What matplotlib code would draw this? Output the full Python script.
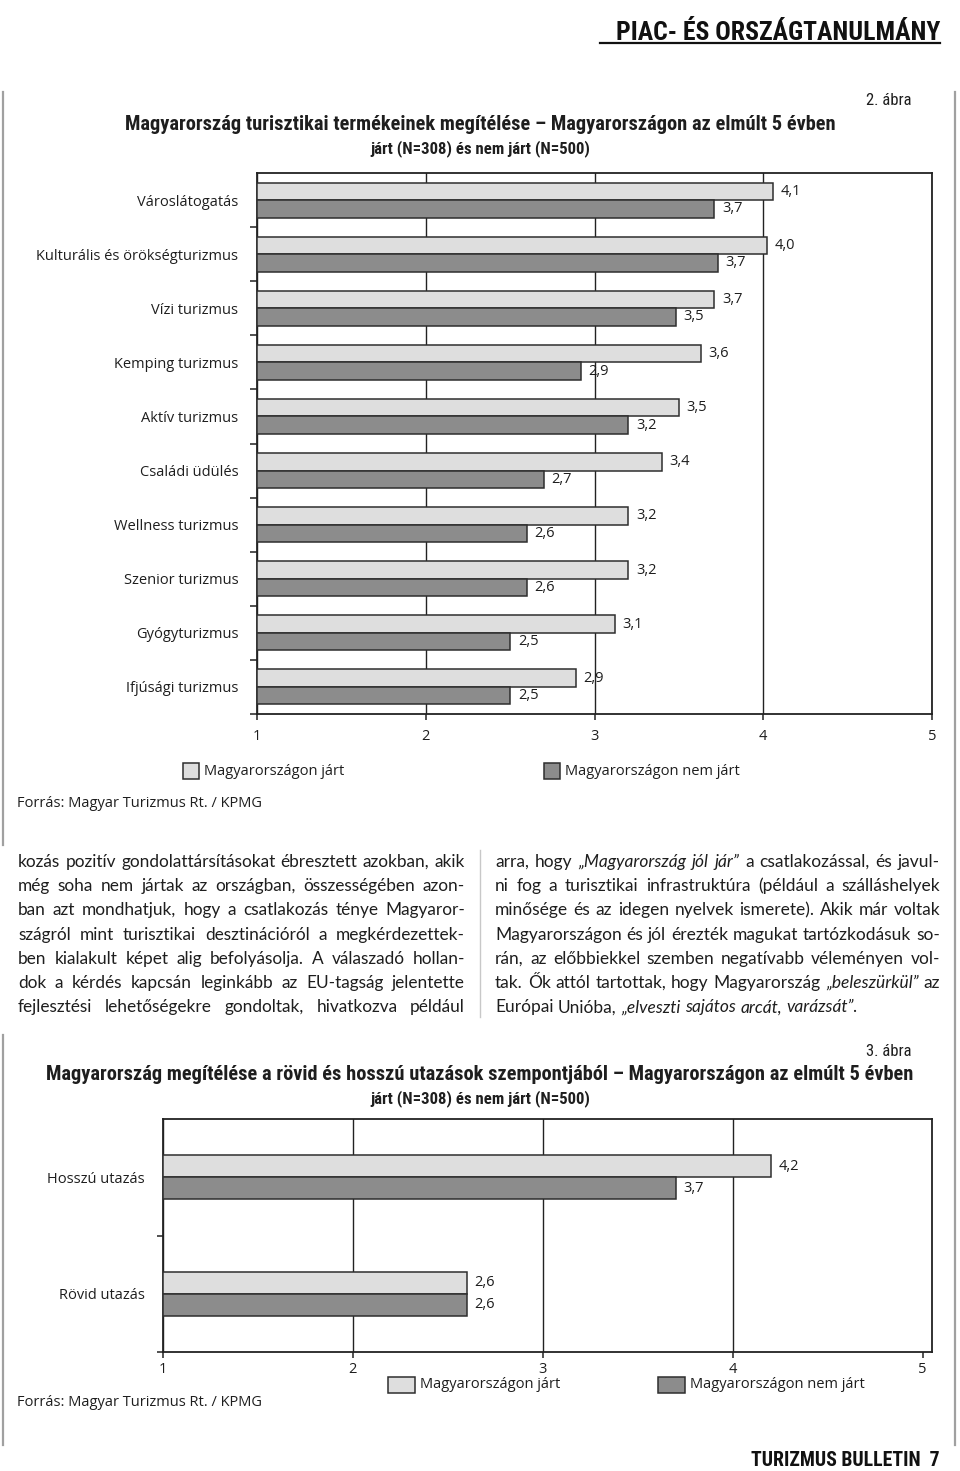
import matplotlib
matplotlib.use("Agg")
import matplotlib.pyplot as plt
from matplotlib import font_manager as fm
from matplotlib.patches import Rectangle
from matplotlib.transforms import offset_copy
import numpy as np

# ---------------- data ----------------
cats1 = ["Városlátogatás", "Kulturális és örökségturizmus", "Vízi turizmus",
         "Kemping turizmus", "Aktív turizmus", "Családi üdülés",
         "Wellness turizmus", "Szenior turizmus", "Gyógyturizmus",
         "Ifjúsági turizmus"]
jart1 = [4.06, 4.02, 3.71, 3.63, 3.5, 3.4, 3.2, 3.2, 3.12, 2.89]
nemjart1 = [3.71, 3.73, 3.48, 2.92, 3.2, 2.7, 2.6, 2.6, 2.5, 2.5]

cats2 = ["Hosszú utazás", "Rövid utazás"]
jart2 = [4.2, 2.6]
nemjart2 = [3.7, 2.6]

xticks = [1, 2, 3, 4, 5]
series_labels = ["Magyarországon járt", "Magyarországon nem járt"]

title1 = ["Magyarország turisztikai termékeinek megítélése – Magyarországon az elmúlt 5 évben",
          "járt (N=308) és nem járt (N=500)"]
title2 = ["Magyarország megítélése a rövid és hosszú utazások szempontjából – Magyarországon az elmúlt 5 évben",
          "járt (N=308) és nem járt (N=500)"]
source = "Forrás: Magyar Turizmus Rt. / KPMG"

left_par = ["kozás pozitív gondolattársításokat ébresztett azokban, akik",
            "még soha nem jártak az országban, összességében azon-",
            "ban azt mondhatjuk, hogy a csatlakozás ténye Magyaror-",
            "szágról mint turisztikai desztinációról a megkérdezettek-",
            "ben kialakult képet alig befolyásolja. A válaszadó hollan-",
            "dok a kérdés kapcsán leginkább az EU-tagság jelentette",
            "fejlesztési lehetőségekre gondoltak, hivatkozva például"]
right_par = ["arra, hogy „*Magyarország jól jár*” a csatlakozással, és javul-",
             "ni fog a turisztikai infrastruktúra (például a szálláshelyek",
             "minősége és az idegen nyelvek ismerete). Akik már voltak",
             "Magyarországon és jól érezték magukat tartózkodásuk so-",
             "rán, az előbbiekkel szemben negatívabb véleményen vol-",
             "tak. Ők attól tartottak, hogy Magyarország „*beleszürkül*” az",
             "Európai Unióba, „*elveszti sajátos arcát, varázsát*”."]

# ---------------- styles ----------------
LIGHT = "#dedede"
DARK = "#8c8c8c"
EDGE = "#2e2e2e"
TXT = "#1e1e1e"


def pick(cands, default="DejaVu Sans"):
    for c in cands:
        try:
            fm.findfont(fm.FontProperties(family=c), fallback_to_default=False)
            return c
        except Exception:
            pass
    return default


COND = pick(["Liberation Sans Narrow", "DejaVu Sans Condensed", "Roboto Condensed",
             "Open Sans Condensed"])
BODY = pick(["Lato", "Open Sans", "Noto Sans"])
CHART = pick(["Open Sans", "Lato", "Noto Sans"])

W, H = 960, 1471
fig = plt.figure(figsize=(W / 100, H / 100), dpi=100)
R = fig.canvas.get_renderer()

page = fig.add_axes([0, 0, 1, 1])
page.set_xlim(0, W)
page.set_ylim(H, 0)
page.axis("off")


def fit(x, y, s, width, ha="left", va="baseline", size0=12, maxsize=None, **kw):
    t = page.text(x, y, s, fontsize=size0, ha=ha, va=va, **kw)
    w = t.get_window_extent(R).width
    sz = size0 * width / w
    if maxsize is not None:
        sz = min(sz, maxsize)
    t.set_fontsize(sz)
    return t


# page frame lines
g = "#a0a0a0"
page.plot([3, 3], [92, 845], color=g, lw=1.6)
page.plot([955, 955], [92, 1445], color=g, lw=1.6)
page.plot([3, 3], [1035, 1445], color=g, lw=1.6)
page.plot([480, 480], [850, 1017], color="#c8c8c8", lw=1.0)

# header
fit(940, 40, "PIAC- ÉS ORSZÁGTANULMÁNY", 325, ha="right", size0=20, maxsize=30,
    family=COND, weight="bold", color="#111")
page.plot([600, 940], [42.5, 42.5], color="#111", lw=1.6)

# footer
fit(940, 1466, "TURIZMUS BULLETIN  7", 188, ha="right", size0=20, maxsize=28,
    family=COND, weight="bold", color="#111")

# figure titles
page.text(912, 100, "2. ábra", ha="right", va="center", fontsize=12, family=COND, color=TXT)
fit(480, 130, title1[0], 712, ha="center", size0=12, family=COND, weight="bold", color=TXT)
fit(480, 153, title1[1], 220, ha="center", size0=12, family=COND, weight="bold", color=TXT)

page.text(912, 1052, "3. ábra", ha="right", va="center", fontsize=12, family=COND, color=TXT)
fit(480, 1080, title2[0], 865, ha="center", size0=12, family=COND, weight="bold", color=TXT)
fit(480, 1103, title2[1], 220, ha="center", size0=12, family=COND, weight="bold", color=TXT)


def px_rect(l, t, r, b):
    return [l / W, 1 - b / H, (r - l) / W, (b - t) / H]


def fmt(v):
    return f"{v:.1f}".replace(".", ",")


def chart(rect, cats, a, b, h, xmax, ypad, xpad, fs_cat, fs_val, ytick_len, grid_last=True):
    ax = fig.add_axes(rect)
    n = len(cats)
    y = np.arange(n)
    a = np.asarray(a)
    b = np.asarray(b)
    ax.barh(y - h / 2, a - 1, left=1, height=h, color=LIGHT, edgecolor=EDGE,
            linewidth=1.1, zorder=3, label=series_labels[0])
    ax.barh(y + h / 2, b - 1, left=1, height=h, color=DARK, edgecolor=EDGE,
            linewidth=1.1, zorder=3, label=series_labels[1])
    ax.set_xlim(1, xmax)
    ax.set_ylim(n - 0.5, -0.5)
    ax.set_xticks(xticks)
    ax.set_xticklabels([str(v) for v in xticks], fontsize=fs_cat, family=CHART, color=TXT)
    ax.set_yticks(y)
    ax.set_yticklabels(cats, fontsize=fs_cat, family=CHART, color=TXT)
    ax.set_yticks(np.arange(n) + 0.5, minor=True)
    ax.tick_params(axis="y", which="major", length=0, pad=ypad)
    ax.tick_params(axis="y", which="minor", length=ytick_len, width=1.1, color="#222",
                   direction="out")
    ax.tick_params(axis="x", length=4, width=1.1, color="#222", pad=xpad)
    ax.grid(axis="x", color="#222", lw=1.0, zorder=1)
    if not grid_last:
        ax.get_xgridlines()[-1].set_visible(False)
    ax.set_axisbelow(True)
    for s in ax.spines.values():
        s.set_color("#222")
        s.set_linewidth(1.3)
    tr = offset_copy(ax.transData, fig=fig, x=5.5, y=0, units="points")
    for i in range(n):
        ax.text(a[i], y[i] - h / 2, fmt(a[i]), transform=tr, va="center", ha="left",
                fontsize=fs_val, family=CHART, color=TXT)
        ax.text(b[i], y[i] + h / 2, fmt(b[i]), transform=tr, va="center", ha="left",
                fontsize=fs_val, family=CHART, color=TXT)
    return ax


chart(px_rect(257, 173, 932, 714), cats1, jart1, nemjart1, 0.323, 5.0,
      ypad=13.5, xpad=7, fs_cat=10.5, fs_val=10.5, ytick_len=5)
chart(px_rect(163, 1119, 932, 1352), cats2, jart2, nemjart2, 0.19, 5.05,
      ypad=13, xpad=3, fs_cat=10.5, fs_val=10.5, ytick_len=4.5, grid_last=False)


def legend(items, y):
    for (x, col, lab, bw) in items:
        page.add_patch(Rectangle((x, y - 8), bw, 16, facecolor=col, edgecolor=EDGE, lw=1.1))
        page.text(x + bw + 5, y, lab, va="center", ha="left", fontsize=10.5,
                  family=CHART, color=TXT)


legend([(183, LIGHT, series_labels[0], 16), (544, DARK, series_labels[1], 16)], 771)
legend([(388, LIGHT, series_labels[0], 27), (658, DARK, series_labels[1], 27)], 1385)

page.text(17, 803, source, va="center", ha="left", fontsize=10.5, family=CHART, color=TXT)
page.text(17, 1403, source, va="center", ha="left", fontsize=10.5, family=CHART, color=TXT)


# ---------------- justified body text ----------------
def parse(line):
    toks, it = [], False
    for w in line.split(" "):
        has = "*" in w
        wi = it or has
        if w.count("*") % 2 == 1:
            it = not it
        toks.append((w.replace("*", ""), wi))
    return toks


def paragraph(lines, x0, x1, y0, dy, fs, last_ragged):
    rows = []
    for i, l in enumerate(lines):
        ts = [page.text(0, y0 + i * dy, w, fontsize=fs, family=BODY,
                        style="italic" if it else "normal", va="baseline", ha="left",
                        color=TXT) for w, it in parse(l)]
        rows.append(ts)
    sp_t = page.text(0, 0, "a a", fontsize=fs, family=BODY)
    aa_t = page.text(0, 0, "aa", fontsize=fs, family=BODY)

    def measure():
        ws = [[t.get_window_extent(R).width for t in ts] for ts in rows]
        sp = sp_t.get_window_extent(R).width - aa_t.get_window_extent(R).width
        return ws, sp

    ws, sp = measure()
    ratio = max((sum(w) + sp * (len(w) - 1)) / (x1 - x0) for w in ws)
    if ratio > 1:
        nfs = fs / ratio * 0.995
        for ts in rows:
            for t in ts:
                t.set_fontsize(nfs)
        sp_t.set_fontsize(nfs)
        aa_t.set_fontsize(nfs)
        ws, sp = measure()
    sp_t.remove()
    aa_t.remove()
    for i, (ts, w) in enumerate(zip(rows, ws)):
        if last_ragged and i == len(rows) - 1 or len(ts) == 1:
            gap = sp
        else:
            gap = (x1 - x0 - sum(w)) / (len(ts) - 1)
        x = x0
        for t, wi in zip(ts, w):
            t.set_x(x)
            x += wi + gap


paragraph(left_par, 18, 465, 867, 24.2, 12.5, last_ragged=False)
paragraph(right_par, 495, 940, 867, 24.2, 12.5, last_ragged=True)

fig.savefig("out.png", dpi=100)
